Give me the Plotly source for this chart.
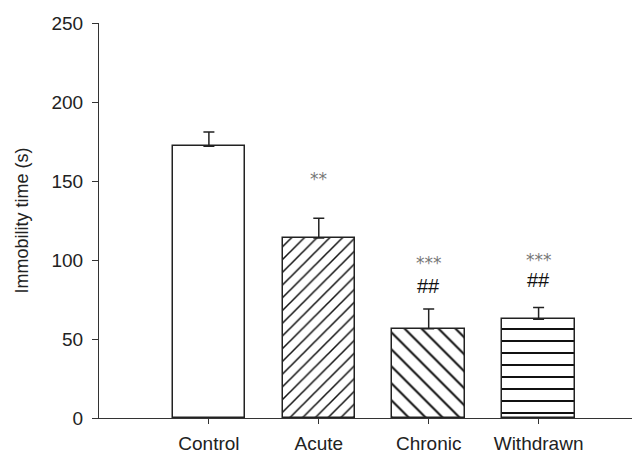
import plotly.graph_objects as go

groups = ["Control", "Acute", "Chronic", "Withdrawn"]
means = [172, 114, 56.5, 62.5]
sems = [9, 12.5, 12.5, 7.5]
star_labels = ["", "**", "***", "***"]
star_y = [None, 151, 98.3, 100.2]
hash_labels = ["", "", "##", "##"]
hash_y = [None, None, 83.7, 87.5]

shapes = ["", "/", "\\", "-"]
sizes = [8, 9, 12, 12]

xpos = list(range(len(groups)))

fig = go.Figure()
for i, g in enumerate(groups):
    fig.add_trace(go.Bar(
        x=[xpos[i]], y=[means[i]], width=0.66,
        marker=dict(
            color="white",
            line=dict(color="#222", width=1.5),
            pattern=dict(shape=shapes[i], size=sizes[i], solidity=0.17,
                         fgcolor="#111", bgcolor="white", fillmode="replace"),
        ),
        error_y=dict(type="data", symmetric=False, array=[sems[i]], arrayminus=[0],
                     color="#222", thickness=1.5, width=5.5),
        showlegend=False,
    ))

for i in xpos:
    if star_labels[i]:
        fig.add_annotation(x=i, y=star_y[i], text=star_labels[i], showarrow=False,
                           font=dict(family="DejaVu Sans", size=17, color="#777"))
    if hash_labels[i]:
        fig.add_annotation(x=i, y=hash_y[i], text=hash_labels[i], showarrow=False,
                           font=dict(family="Liberation Sans", size=20, color="#111"))

fig.update_layout(
    width=632, height=454,
    margin=dict(l=99, r=0, t=23, b=36),
    plot_bgcolor="white", paper_bgcolor="white",
    font=dict(family="Liberation Sans", size=19, color="#222"),
    xaxis=dict(range=[-1, 3.85], tickvals=xpos, ticktext=groups,
               showline=True, linecolor="#333", linewidth=1.2,
               ticks="outside", ticklen=5, tickcolor="#333", tickwidth=1.2,
               ticklabelstandoff=3,
               showgrid=False, zeroline=False, tickfont=dict(size=19)),
    yaxis=dict(range=[0, 250], tickvals=[0, 50, 100, 150, 200, 250],
               showline=True, linecolor="#333", linewidth=1.2,
               ticks="outside", ticklen=6, tickcolor="#333", tickwidth=1.2,
               ticklabelstandoff=5,
               showgrid=False, zeroline=False, tickfont=dict(size=19),
               title=dict(text="Immobility time (s)", font=dict(size=18), standoff=18)),
    bargap=0,
)

fig.write_html("out.html")
